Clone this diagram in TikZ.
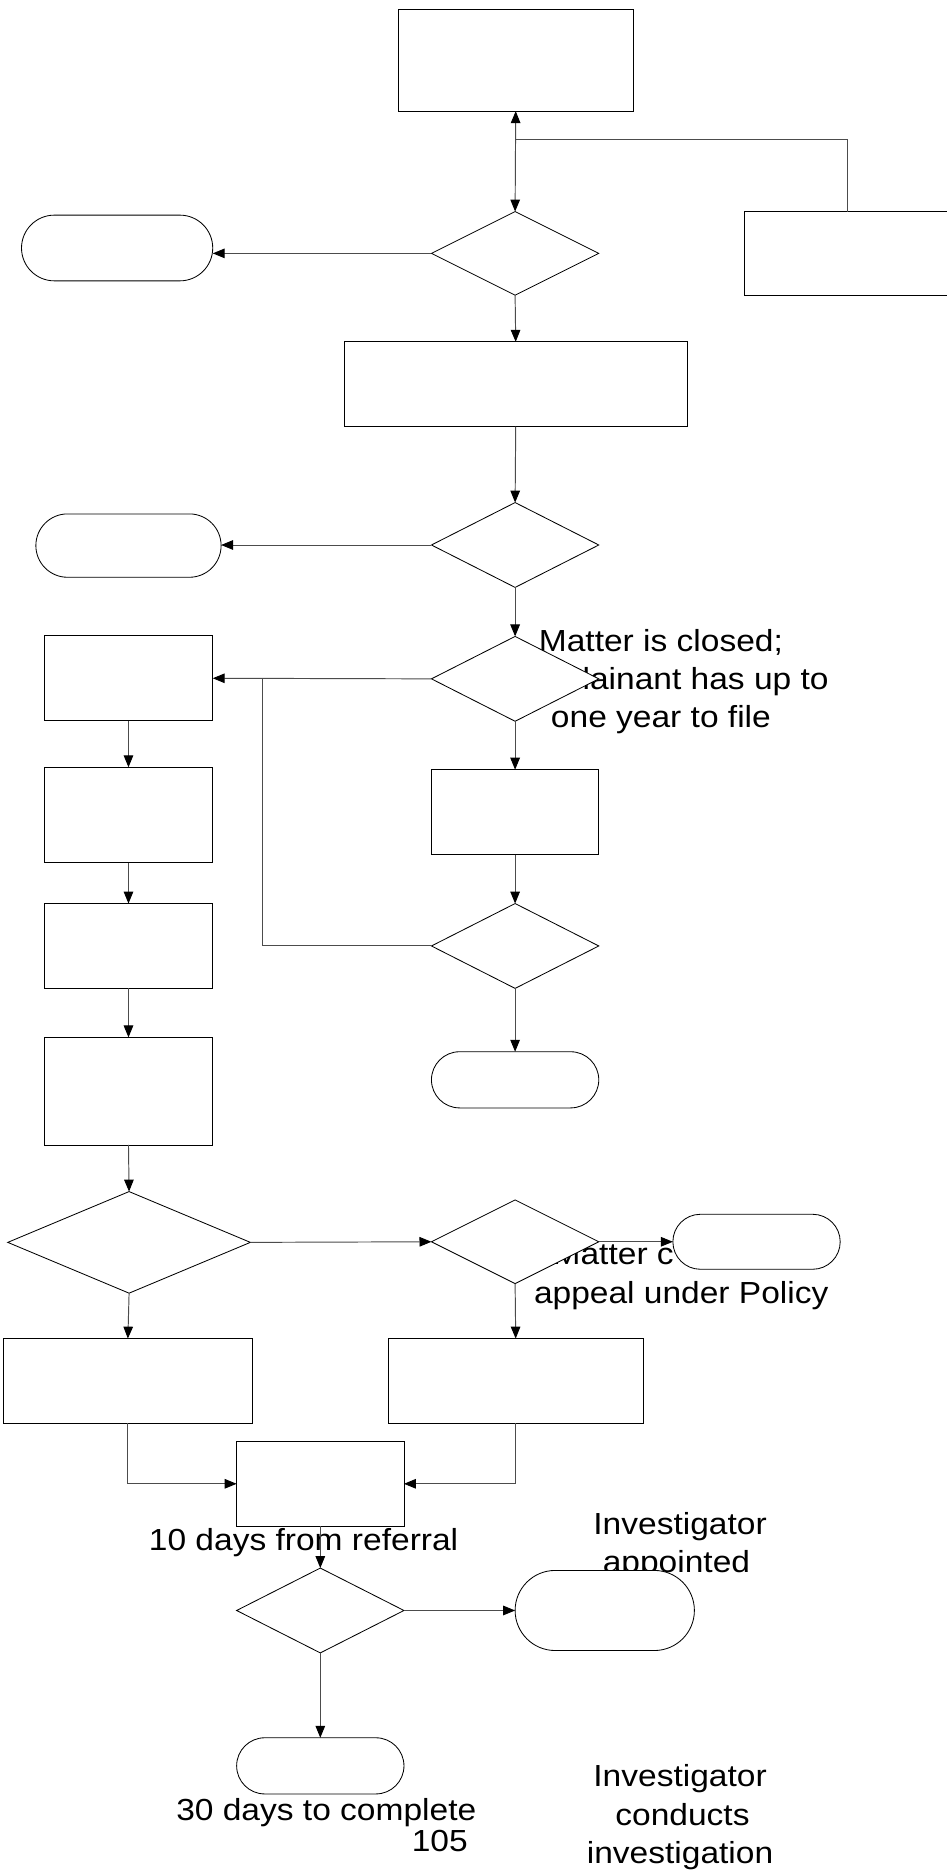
\documentclass[tikz,border=0pt]{standalone}
\usepackage{fontspec}
\setmainfont{Liberation Sans}[FakeStretch=1.1]
\usetikzlibrary{shapes.geometric,shapes.misc,arrows.meta}
\begin{document}
\begin{tikzpicture}[x=1pt,y=-1pt,
  shp/.style={draw=black,line width=0.7pt,fill=white,inner sep=0pt,outer sep=0pt},
  procbox/.style={shp,rectangle},
  decis/.style={shp,diamond},
  term/.style={shp,rounded rectangle},
  lbl/.style={inner sep=0pt,anchor=base,font=\fontsize{25.5}{31}\selectfont},
  conn/.style={draw=black!70,line width=0.8pt},
  arr/.style={conn,-{Triangle[length=10pt,width=8pt,color=black]}}
]
\useasboundingbox (0,0) rectangle (792,1568);
\fill[white] (0,0) rectangle (792,1568);

% texts (drawn first, shapes cover parts of them)
\node[lbl] (t1a) at (553,545) {Matter is closed;};
\node[lbl] (t1b) at (553,577) {\phantom{Comp}lainant has up to};
\node[lbl] (t1c) at (553,609) {one year to file};
\node[lbl] (t2a) at (570,1058) {Matter c\phantom{losed; no}};
\node[lbl] (t2b) at (570,1091) {appeal under Policy};
\node[lbl] (t3) at (254,1297) {10 days from referral};
\node[lbl] (t4a) at (569,1284) {Investigator};
\node[lbl] (t4b) at (566,1316) {appointed};
\node[lbl] (t5) at (273,1523) {30 days to complete};
\node[lbl] (t6) at (368,1549) {105};
\node[lbl] (t7a) at (569,1495) {Investigator};
\node[lbl] (t7b) at (571,1527) {conducts};
\node[lbl] (t7c) at (569,1559) {investigation};

% shapes
\node[procbox,minimum width=197pt,minimum height=85pt] (A) at (431.5,50.5) {};
\node[procbox,minimum width=172pt,minimum height=70pt] (B) at (709,212) {};
\node[decis,minimum width=140pt,minimum height=70pt] (D1) at (431,212) {};
\node[term,minimum width=160pt,minimum height=55pt] (T1) at (98,207.5) {};
\node[procbox,minimum width=287pt,minimum height=71pt] (C) at (431.5,321.5) {};
\node[decis,minimum width=140pt,minimum height=71pt] (D2) at (431,456) {};
\node[term,minimum width=155pt,minimum height=53pt] (T2) at (107.5,456.5) {};
\node[decis,minimum width=140pt,minimum height=71pt] (D3) at (431,568) {};
\node[procbox,minimum width=141pt,minimum height=71pt] (E1) at (107.5,567.5) {};
\node[procbox,minimum width=140pt,minimum height=71pt] (F) at (431,679.5) {};
\node[decis,minimum width=140pt,minimum height=71pt] (D4) at (431,791.5) {};
\node[term,minimum width=140pt,minimum height=47pt] (T3) at (431,903.5) {};
\node[procbox,minimum width=141pt,minimum height=80pt] (E2) at (107.5,682) {};
\node[procbox,minimum width=141pt,minimum height=71pt] (E3) at (107.5,791.5) {};
\node[procbox,minimum width=141pt,minimum height=90pt] (E4) at (107.5,913) {};
\node[decis,minimum width=203pt,minimum height=85pt] (D5) at (108,1039.5) {};
\node[decis,minimum width=140pt,minimum height=70pt] (D6) at (431,1039) {};
\node[term,minimum width=140pt,minimum height=46pt] (T4) at (633,1039) {};
\node[procbox,minimum width=208pt,minimum height=71pt] (G1) at (107,1155.5) {};
\node[procbox,minimum width=213pt,minimum height=71pt] (G2) at (431.5,1155.5) {};
\node[procbox,minimum width=140pt,minimum height=71pt] (H) at (268,1241.5) {};
\node[decis,minimum width=140pt,minimum height=71pt] (D7) at (268,1347.5) {};
\node[term,minimum width=150pt,minimum height=67pt] (T5) at (506,1347.5) {};
\node[term,minimum width=140pt,minimum height=47pt] (T6) at (268,1477.5) {};

\coordinate (K) at (431.5,117);
\coordinate (J) at (220,568);

% connectors
\draw[conn,{Triangle[length=10pt,width=8pt,color=black]}-{Triangle[length=10pt,width=8pt,color=black]}] (A.south) -- (D1.north);
\draw[conn] (B.north) |- (K);
\draw[arr] (D1.west) -- (D1.west -| T1.east);
\draw[arr] (D1.south) -- (C.north);
\draw[arr] (C.south) -- (D2.north);
\draw[arr] (D2.west) -- (D2.west -| T2.east);
\draw[arr] (D2.south) -- (D3.north);
\draw[arr] (D3.west) -- (E1.east);
\draw[conn] (D4.west) -| (J);
\draw[arr] (D3.south) -- (F.north);
\draw[arr] (F.south) -- (D4.north);
\draw[arr] (D4.south) -- (T3.north);
\draw[arr] (E1.south) -- (E2.north);
\draw[arr] (E2.south) -- (E3.north);
\draw[arr] (E3.south) -- (E4.north);
\draw[arr] (E4.south) -- (D5.north);
\draw[arr] (D5.east) -- (D6.west);
\draw[arr] (D6.east) -- (T4.west);
\draw[arr] (D5.south) -- (G1.north);
\draw[arr] (D6.south) -- (G2.north);
\draw[arr] (G1.south) |- (H.west);
\draw[arr] (G2.south) |- (H.east);
\draw[arr] (H.south) -- (D7.north);
\draw[arr] (D7.east) -- (T5.west);
\draw[arr] (D7.south) -- (T6.north);
\end{tikzpicture}
\end{document}
